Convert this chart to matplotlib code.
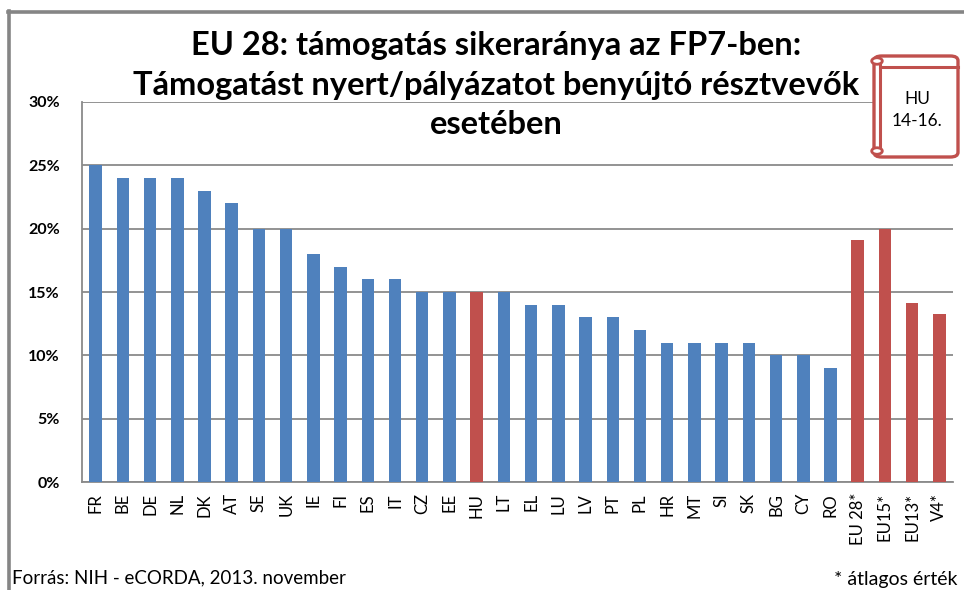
import matplotlib
matplotlib.use("Agg")
import matplotlib.pyplot as plt
from matplotlib.patches import FancyBboxPatch, Circle
from matplotlib.lines import Line2D

plt.rcParams['font.family'] = ['Lato', 'DejaVu Sans']

countries = ['FR', 'BE', 'DE', 'NL', 'DK', 'AT', 'SE', 'UK', 'IE', 'FI', 'ES', 'IT',
             'CZ', 'EE', 'HU', 'LT', 'EL', 'LU', 'LV', 'PT', 'PL', 'HR', 'MT', 'SI',
             'SK', 'BG', 'CY', 'RO', 'EU 28*', 'EU15*', 'EU13*', 'V4*']
rates = [25, 24, 24, 24, 23, 22, 20, 20, 18, 17, 16, 16,
         15, 15, 15, 15, 14, 14, 13, 13, 12, 11, 11, 11,
         11, 10, 10, 9, 19.1, 20.0, 14.1, 13.3]
highlight = ['HU', 'EU 28*', 'EU15*', 'EU13*', 'V4*']
yticks = [0, 5, 10, 15, 20, 25, 30]

blue = '#4F81BD'
red = '#C0504D'
grey = '#8A8A8A'

W, H = 964, 590
fig = plt.figure(figsize=(W / 100, H / 100), dpi=100)
fig.patch.set_facecolor('white')

def fx(px):
    return px / W

def fy(py):
    return 1 - py / H

ax = fig.add_axes([fx(82), fy(482), fx(953) - fx(82), fy(102) - fy(482)])
colors = [red if c in highlight else blue for c in countries]
x = list(range(len(countries)))
ax.bar(x, rates, width=0.46, color=colors, zorder=3)
ax.set_xlim(-0.5, len(countries) - 0.5)
ax.set_ylim(0, 30)
ax.set_yticks(yticks)
ax.set_yticklabels([f'{v}%' for v in yticks], fontsize=11.5, fontweight='bold')
ax.set_xticks(x)
ax.set_xticklabels(countries, rotation=90, fontsize=12)
ax.tick_params(axis='both', length=0, pad=8)
ax.tick_params(axis='y', pad=16)
ax.grid(axis='y', color=grey, linewidth=1.3, zorder=0)
for s in ['top', 'right']:
    ax.spines[s].set_visible(False)
for s in ['left', 'bottom']:
    ax.spines[s].set_color(grey)
    ax.spines[s].set_linewidth(1.3)

# outer frame
fig.add_artist(Line2D([fx(8), 1], [fy(12), fy(12)], color='#858585', lw=2.6))
fig.add_artist(Line2D([fx(9), fx(9)], [fy(11), 0], color='#858585', lw=2.6))

fig.text(fx(496), fy(85),
         'EU 28: támogatás sikeraránya az FP7-ben:\n'
         'Támogatást nyert/pályázatot benyújtó résztvevők\n'
         'esetében',
         ha='center', va='center', fontsize=23.5, fontweight='bold',
         linespacing=1.45)

# scroll-shaped note
box = FancyBboxPatch((fx(874), fy(157)), fx(958) - fx(874), fy(56) - fy(157),
                     boxstyle='round,pad=0,rounding_size=0.008',
                     transform=fig.transFigure, facecolor='white',
                     edgecolor=red, lw=2.4, zorder=5)
fig.add_artist(box)
fig.add_artist(Line2D([fx(880), fx(958)], [fy(67), fy(67)], color=red, lw=2.2, zorder=6))
fig.add_artist(Line2D([fx(880), fx(880)], [fy(62), fy(150)], color=red, lw=2.2, zorder=6))
for cy in (61, 151):
    fig.add_artist(Circle((fx(877), fy(cy)), 0.0055, transform=fig.transFigure,
                          facecolor='white', edgecolor=red, lw=2.0, zorder=7))
fig.text(fx(917), fy(110), 'HU\n14-16.', ha='center', va='center',
         fontsize=12.5, linespacing=1.5, zorder=8)

fig.text(fx(12), fy(578), 'Forrás: NIH - eCORDA, 2013. november',
         ha='left', va='center', fontsize=13.5)
fig.text(fx(958), fy(580), '* átlagos érték', ha='right', va='center',
         fontsize=14)

fig.savefig('out.png', dpi=100)
